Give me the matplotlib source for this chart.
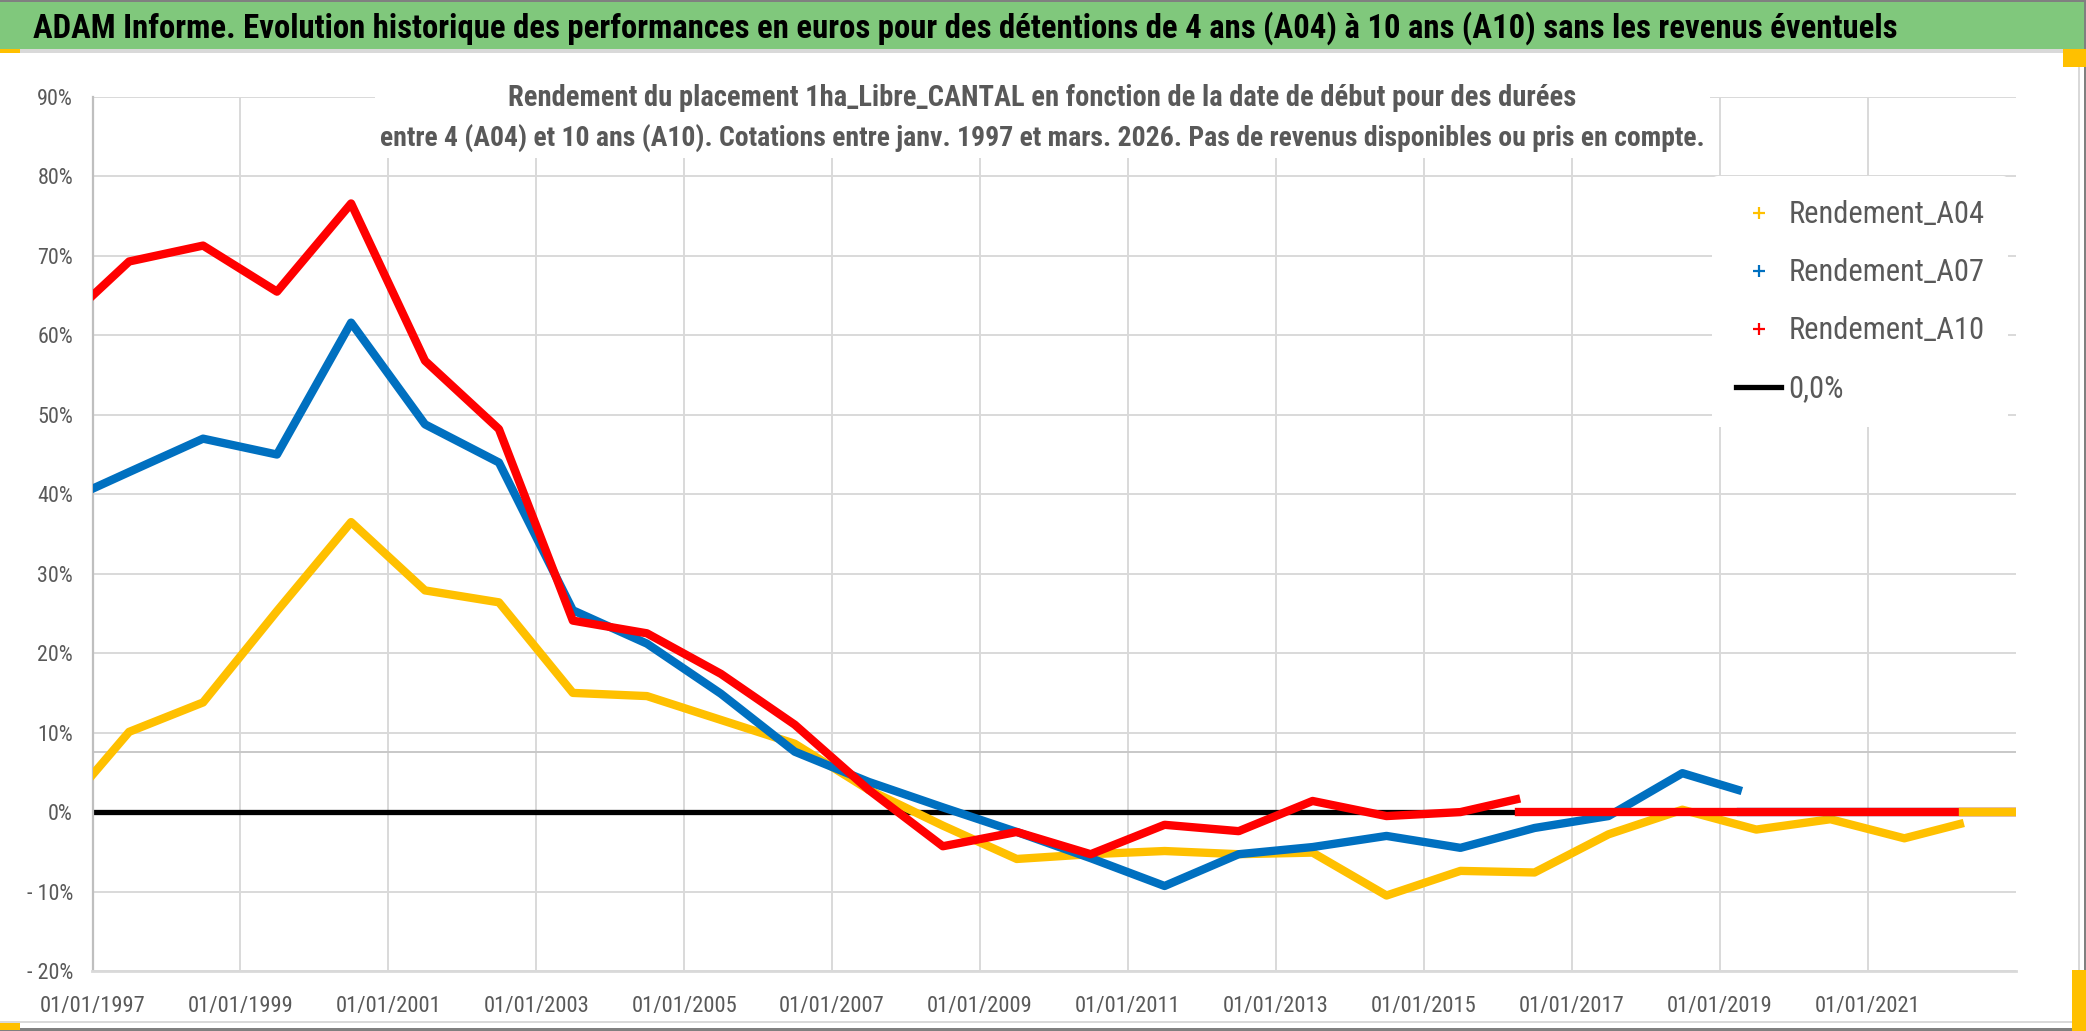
import matplotlib
matplotlib.use('Agg')
from datetime import datetime
import matplotlib.pyplot as plt
import matplotlib.dates as mdates
from matplotlib import font_manager
from matplotlib.patches import Rectangle
from matplotlib.lines import Line2D
from matplotlib.ticker import FuncFormatter

# ---- data (rendement en %) ----
dates_a10 = ['1997-01-01', '1997-07-01', '1998-07-01', '1999-07-01', '2000-07-01',
             '2001-07-01', '2002-07-01', '2003-07-01', '2004-07-01', '2005-07-01',
             '2006-07-01', '2007-07-01', '2008-07-01', '2009-07-01', '2010-07-01',
             '2011-07-01', '2012-07-01', '2013-07-01', '2014-07-01', '2015-07-01',
             '2016-04-01']
rendement_a10 = [65.0, 69.3, 71.3, 65.5, 76.6, 56.8, 48.2, 24.1, 22.5, 17.4,
                 11.0, 2.8, -4.3, -2.5, -5.3, -1.6, -2.4, 1.4, -0.5, 0.0,
                 1.6]

dates_a07 = ['1997-01-01', '1997-07-01', '1998-07-01', '1999-07-01', '2000-07-01',
             '2001-07-01', '2002-07-01', '2003-07-01', '2004-07-01', '2005-07-01',
             '2006-07-01', '2007-07-01', '2008-07-01', '2009-07-01', '2010-07-01',
             '2011-07-01', '2012-07-01', '2013-07-01', '2014-07-01', '2015-07-01',
             '2016-07-01', '2017-07-01', '2018-07-01', '2019-04-01']
rendement_a07 = [40.7, 42.8, 47.0, 45.0, 61.6, 48.8, 44.0, 25.4, 21.2, 14.9,
                 7.6, 3.8, 0.6, -2.5, -5.8, -9.3, -5.3, -4.4, -3.0, -4.5,
                 -2.0, -0.5, 4.9, 2.8]

dates_a04 = ['1997-01-01', '1997-07-01', '1998-07-01', '1999-07-01', '2000-07-01',
             '2001-07-01', '2002-07-01', '2003-07-01', '2004-07-01', '2005-07-01',
             '2006-07-01', '2007-07-01', '2008-07-01', '2009-07-01', '2010-07-01',
             '2011-07-01', '2012-07-01', '2013-07-01', '2014-07-01', '2015-07-01',
             '2016-07-01', '2017-07-01', '2018-07-01', '2019-07-01', '2020-07-01',
             '2021-07-01', '2022-04-01']
rendement_a04 = [4.7, 10.1, 13.8, 25.3, 36.5, 27.9, 26.4, 15.0, 14.6, 11.6,
                 8.6, 2.8, -1.7, -5.9, -5.3, -4.9, -5.3, -5.1, -10.5, -7.4,
                 -7.6, -2.8, 0.3, -2.2, -0.9, -3.3, -1.5]

# periods without data are drawn at 0
fin_a10 = ['2016-04-15', '2023-01-01']
fin_a07 = ['2019-04-15', '2023-01-01']
fin_a04 = ['2022-04-15', '2023-01-01']
zero_dates = ['1997-01-01', '2023-01-01']
ligne_ref = 7.55

xticks = ['1997-01-01', '1999-01-01', '2001-01-01', '2003-01-01', '2005-01-01',
          '2007-01-01', '2009-01-01', '2011-01-01', '2013-01-01', '2015-01-01',
          '2017-01-01', '2019-01-01', '2021-01-01']
yticks = [-20, -10, 0, 10, 20, 30, 40, 50, 60, 70, 80, 90]

titre = ('ADAM Informe. Evolution historique des performances en euros pour des '
         'détentions de 4 ans (A04) à 10 ans (A10) sans les revenus éventuels')
sous_titre_1 = ('Rendement du placement 1ha_Libre_CANTAL en fonction de la date '
                'de début pour des durées')
sous_titre_2 = ('entre 4 (A04) et 10 ans (A10). Cotations entre janv. 1997 et '
                'mars. 2026. Pas de revenus disponibles ou pris en compte.')


def d(lst):
    return [datetime.strptime(s, '%Y-%m-%d') for s in lst]


installed = {f.name for f in font_manager.fontManager.ttflist}
font = 'DejaVu Sans'
for cand in ['Liberation Sans Narrow', 'Roboto Condensed', 'Lato', 'Liberation Sans']:
    if cand in installed:
        font = cand
        break
plt.rcParams['font.family'] = [font, 'DejaVu Sans']

W, H = 2086, 1031
fig = plt.figure(figsize=(W / 100, H / 100), dpi=100)
fig.patch.set_facecolor('white')
renderer = fig.canvas.get_renderer()


def fit(txt, target):
    # scale the font so the text spans target pixels
    w = txt.get_window_extent(renderer).width
    txt.set_fontsize(txt.get_fontsize() * target / w)


# plot area
left, right, top, bottom = 92.5, 2015.5, 97.0, 971.0
ax = fig.add_axes([left / W, 1 - bottom / H, (right - left) / W, (bottom - top) / H])

grey_txt = '#595959'
ax.plot(d(zero_dates), [0, 0], color='black', lw=3.8, zorder=2)
ax.axhline(ligne_ref, color='#C8C8C8', lw=1.4, zorder=1)

series = [
    ('Rendement_A04', dates_a04, rendement_a04, fin_a04, '#FFC000', 6),
    ('Rendement_A07', dates_a07, rendement_a07, fin_a07, '#0070C0', 4),
    ('Rendement_A10', dates_a10, rendement_a10, fin_a10, '#FF0000', 5),
]
handles = []
for k, (name, dts, vals, fin, col, zfin) in enumerate(series):
    ax.plot(d(dts), vals, color=col, lw=6.0, zorder=3 + k, solid_joinstyle='round')
    ax.plot(d(fin), [0, 0], color=col, lw=6.0, zorder=zfin)
    handles.append(Line2D([], [], ls='none', marker='+', color=col, ms=8, mew=1.6))
handles.append(Line2D([], [], color='black', lw=3.8))

ax.set_xlim(datetime(1997, 1, 1), datetime(2023, 1, 1))
ax.set_ylim(-20, 90)
ax.set_xticks(d(xticks))
ax.xaxis.set_major_formatter(mdates.DateFormatter('%d/%m/%Y'))
ax.set_yticks(yticks)
ax.yaxis.set_major_formatter(FuncFormatter(
    lambda v, p: '%d%%' % v if v >= 0 else '- %d%%' % abs(v)))

ax.grid(True, color='#D9D9D9', lw=1.4)
ax.set_axisbelow(True)
for s in ['top', 'right']:
    ax.spines[s].set_visible(False)
ax.spines['left'].set_color('#BFBFBF')
ax.spines['left'].set_linewidth(1.6)
ax.spines['bottom'].set_color('#D9D9D9')
ax.spines['bottom'].set_linewidth(2.0)
ax.tick_params(axis='both', length=0, colors=grey_txt)
ax.tick_params(axis='x', labelsize=14, pad=18)
ax.tick_params(axis='y', labelsize=14, pad=14)

# tick label sizes from the reference widths (01/01/1997 ~106 px, 80% ~36 px)
fig.canvas.draw()
xl = ax.get_xticklabels()[0]
xs = 14 * 106 / xl.get_window_extent(renderer).width
yl = ax.get_yticklabels()[-2]
ys = 14 * 36 / yl.get_window_extent(renderer).width
ax.tick_params(axis='x', labelsize=xs)
ax.tick_params(axis='y', labelsize=ys)

leg = ax.legend(handles, ['Rendement_A04', 'Rendement_A07', 'Rendement_A10', '0,0%'],
                loc='upper left', bbox_to_anchor=(1712 / W, 1 - 176 / H),
                bbox_transform=fig.transFigure, fontsize=20, labelcolor=grey_txt,
                frameon=True, facecolor='white', edgecolor='none', framealpha=1,
                handlelength=1.65, handletextpad=0.25, labelspacing=1.05,
                borderpad=0.85, borderaxespad=0)
fig.canvas.draw()
lt = leg.get_texts()[0]
ls = 20 * 196 / lt.get_window_extent(renderer).width
for t in leg.get_texts():
    t.set_fontsize(ls)

# white box behind the chart subtitle
fig.add_artist(Rectangle((375 / W, 1 - 158 / H), (1710 - 375) / W, (158 - 56) / H,
                         transform=fig.transFigure, facecolor='white',
                         edgecolor='none', zorder=1))
st1 = fig.text(0.4995, 1 - 106 / H, sous_titre_1, ha='center', va='baseline',
               fontsize=20, fontweight='bold', color=grey_txt, zorder=2)
st2 = fig.text(0.4995, 1 - 146 / H, sous_titre_2, ha='center', va='baseline',
               fontsize=20, fontweight='bold', color=grey_txt, zorder=2)
fit(st1, 1063)
fit(st2, 1325)

# green title banner and frame
fig.add_artist(Rectangle((0, 1 - 49 / H), 1, 49 / H, transform=fig.transFigure,
                         facecolor='#80C87C', edgecolor='none', zorder=1))
fig.add_artist(Rectangle((0, 1 - 53 / H), 1, 4 / H, transform=fig.transFigure,
                         facecolor='#D9D9D9', edgecolor='none', zorder=1))
fig.add_artist(Rectangle((0, 1 - 1.5 / H), 1, 1.5 / H, transform=fig.transFigure,
                         facecolor='#808080', edgecolor='none', zorder=1))
fig.add_artist(Rectangle((1 - 2 / W, 0), 2 / W, 1, transform=fig.transFigure,
                         facecolor='#808080', edgecolor='none', zorder=1))
fig.add_artist(Rectangle((0, 0), 1, 3 / H, transform=fig.transFigure,
                         facecolor='#808080', edgecolor='none', zorder=1))
fig.add_artist(Rectangle((0, 8 / H), 1, 2 / H, transform=fig.transFigure,
                         facecolor='#D9D9D9', edgecolor='none', zorder=1))
fig.add_artist(Rectangle((2078 / W, 8 / H), 2 / W, 1 - 61 / H, transform=fig.transFigure,
                         facecolor='#D9D9D9', edgecolor='none', zorder=1))
for (x0, y0, w, h) in [(0, 49, 20, 4), (2063, 49, 23, 18), (0, 1023, 20, 7),
                       (2072, 970, 14, 61)]:
    fig.add_artist(Rectangle((x0 / W, 1 - (y0 + h) / H), w / W, h / H,
                             transform=fig.transFigure, facecolor='#FFC000',
                             edgecolor='none', zorder=2))
tt = fig.text(33 / W, 1 - 38 / H, titre, ha='left', va='baseline', fontsize=23,
              fontweight='bold', color='black', zorder=3)
fit(tt, 1869)

fig.savefig('out.png', dpi=100)
